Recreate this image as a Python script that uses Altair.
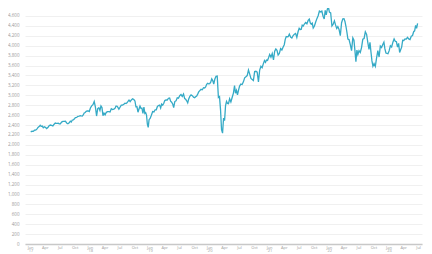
import altair as alt
import pandas as pd

# Approximate weekly closes, grouped by month (Jan 2017 - Jun 2023)
months = [
    "2017-01", "2017-02", "2017-03", "2017-04", "2017-05", "2017-06",
    "2017-07", "2017-08", "2017-09", "2017-10", "2017-11", "2017-12",
    "2018-01", "2018-02", "2018-03", "2018-04", "2018-05", "2018-06",
    "2018-07", "2018-08", "2018-09", "2018-10", "2018-11", "2018-12",
    "2019-01", "2019-02", "2019-03", "2019-04", "2019-05", "2019-06",
    "2019-07", "2019-08", "2019-09", "2019-10", "2019-11", "2019-12",
    "2020-01", "2020-02", "2020-03", "2020-04", "2020-05", "2020-06",
    "2020-07", "2020-08", "2020-09", "2020-10", "2020-11", "2020-12",
    "2021-01", "2021-02", "2021-03", "2021-04", "2021-05", "2021-06",
    "2021-07", "2021-08", "2021-09", "2021-10", "2021-11", "2021-12",
    "2022-01", "2022-02", "2022-03", "2022-04", "2022-05", "2022-06",
    "2022-07", "2022-08", "2022-09", "2022-10", "2022-11", "2022-12",
    "2023-01", "2023-02", "2023-03", "2023-04", "2023-05", "2023-06",
]
values = [
    [2258, 2275, 2271, 2295], [2297, 2316, 2351, 2367], [2395, 2373, 2378, 2344, 2363],
    [2355, 2329, 2349, 2384], [2399, 2391, 2381, 2416], [2439, 2432, 2433, 2438, 2423],
    [2425, 2459, 2473, 2472], [2476, 2441, 2426, 2443], [2477, 2461, 2500, 2502, 2519],
    [2549, 2553, 2575, 2581], [2587, 2582, 2579, 2602, 2642], [2652, 2675, 2684, 2683, 2673],
    [2743, 2786, 2810, 2873], [2762, 2581, 2732, 2747], [2691, 2786, 2752, 2588, 2640],
    [2604, 2656, 2670, 2670], [2663, 2727, 2712, 2721], [2735, 2779, 2780, 2755, 2718],
    [2759, 2801, 2802, 2818], [2840, 2833, 2850, 2875, 2902], [2872, 2905, 2930, 2914],
    [2885, 2767, 2768, 2658, 2723], [2781, 2736, 2737, 2633, 2760], [2633, 2650, 2600, 2416, 2351, 2507],
    [2532, 2596, 2670, 2664], [2707, 2707, 2775, 2793], [2803, 2743, 2822, 2800, 2834],
    [2893, 2907, 2905, 2940], [2945, 2881, 2860, 2826, 2752], [2873, 2887, 2950, 2941],
    [2990, 3014, 2977, 3026], [2932, 2918, 2889, 2847, 2926], [2978, 3007, 2992, 2962],
    [2952, 2970, 2986, 3023, 3067], [3093, 3120, 3110, 3153], [3146, 3169, 3221, 3240, 3231],
    [3235, 3265, 3330, 3295, 3226], [3328, 3380, 3386, 2954], [2972, 2711, 2305, 2237, 2541],
    [2489, 2790, 2875, 2837, 2831], [2930, 2864, 2955, 3044], [3194, 3041, 3098, 3009, 3100],
    [3185, 3225, 3216, 3271], [3351, 3373, 3397, 3508], [3427, 3340, 3319, 3298],
    [3477, 3484, 3465, 3270], [3509, 3585, 3557, 3638], [3699, 3663, 3709, 3703, 3756],
    [3824, 3768, 3841, 3714], [3887, 3934, 3907, 3811], [3842, 3943, 3913, 3975],
    [4019, 4128, 4185, 4180, 4181], [4232, 4174, 4155, 4204], [4230, 4247, 4166, 4281],
    [4352, 4327, 4328, 4412, 4395], [4437, 4468, 4442, 4509], [4535, 4458, 4433, 4455, 4357],
    [4391, 4471, 4545, 4605], [4697, 4682, 4698, 4595], [4538, 4712, 4620, 4725, 4796],
    [4677, 4663, 4398, 4432], [4500, 4419, 4349, 4385], [4329, 4204, 4463, 4543],
    [4546, 4488, 4392, 4271, 4132], [4123, 4023, 3901, 4158], [4109, 3901, 3675, 3912, 3825],
    [3899, 3863, 3962, 4130], [4145, 4280, 4228, 4058], [3924, 4067, 3873, 3693, 3586],
    [3640, 3583, 3753, 3901], [3771, 3993, 3965, 4026], [4072, 3934, 3852, 3845, 3840],
    [3895, 3999, 3973, 4071], [4136, 4090, 4079, 3970], [4046, 3862, 3917, 3971, 4109],
    [4105, 4137, 4133, 4169], [4136, 4124, 4192, 4205], [4282, 4299, 4410, 4348, 4450],
]

y_ticks = list(range(0, 4601, 200))
x_ticks = [
    "2017-01-01", "2017-04-01", "2017-07-01", "2017-10-01",
    "2018-01-01", "2018-04-01", "2018-07-01", "2018-10-01",
    "2019-01-01", "2019-04-01", "2019-07-01", "2019-10-01",
    "2020-01-01", "2020-04-01", "2020-07-01", "2020-10-01",
    "2021-01-01", "2021-04-01", "2021-07-01", "2021-10-01",
    "2022-01-01", "2022-04-01", "2022-07-01", "2022-10-01",
    "2023-01-01", "2023-04-01", "2023-07-01",
]

rows = []
for m, vals in zip(months, values):
    start = pd.Timestamp(m + "-01")
    end = start + pd.offsets.MonthBegin(1)
    span = (end - start).days
    n = len(vals)
    for i, v in enumerate(vals):
        d = start + pd.Timedelta(days=span * (i + 0.5) / n)
        rows.append({"date": d.strftime("%Y-%m-%dT%H:%M:%S"), "value": v})
df = pd.DataFrame(rows)

x_dt = [{"year": int(s[:4]), "month": int(s[5:7]), "date": 1} for s in x_ticks]

chart = alt.Chart(df).mark_line(color="#35aac6", strokeWidth=1.3, clip=False).encode(
    x=alt.X(
        "date:T",
        scale=alt.Scale(domain=["2016-12-01", "2023-07-25"], nice=False),
        axis=alt.Axis(
            values=x_dt,
            title=None,
            grid=False,
            ticks=False,
            domainColor="#c8c8c8",
            domainWidth=1.5,
            labelFontSize=4,
            labelColor="#9a9a9a",
            labelPadding=1,
            labelLineHeight=3.6,
            labelFont="Open Sans",
            labelOverlap=False,
            labelExpr="month(datum.value) == 0 ? [timeFormat(datum.value, '%b'), \"'\" + timeFormat(datum.value, '%y')] : timeFormat(datum.value, '%b')",
        ),
    ),
    y=alt.Y(
        "value:Q",
        scale=alt.Scale(domain=[0, 4760], nice=False, zero=True),
        axis=alt.Axis(
            values=y_ticks,
            title=None,
            labelExpr="format(datum.value, ',')",
            domain=False,
            ticks=False,
            gridColor="#ececec",
            gridWidth=0.8,
            labelFontSize=4.5,
            labelColor="#9a9a9a",
            labelPadding=6,
            labelFont="Open Sans",
            labelOverlap=False,
        ),
    ),
).properties(
    width=397,
    height=236,
    autosize=alt.AutoSizeParams(type="none"),
    padding={"left": 17, "top": 0, "right": 2, "bottom": 8},
).configure(background="white").configure_view(stroke=None)

chart.save("out.html", embed_options={"renderer": "svg", "actions": False})
